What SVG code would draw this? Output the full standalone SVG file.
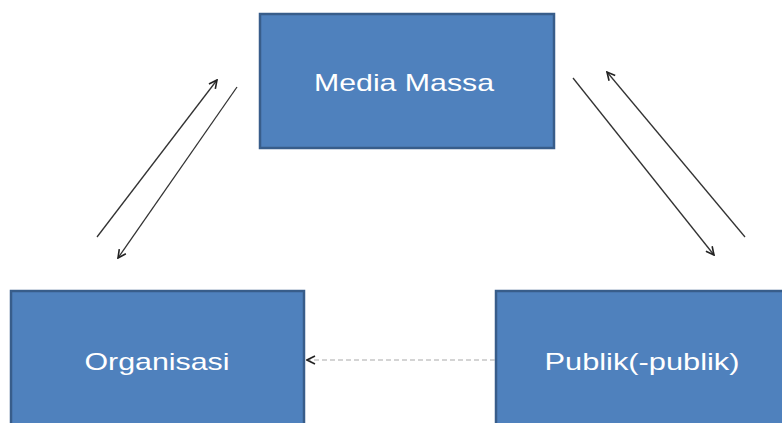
<svg xmlns="http://www.w3.org/2000/svg" width="782" height="423" viewBox="0 0 782 423">
<style>
.box{fill:#4F81BD;stroke:#385D8A;stroke-width:2.5}
.lbl{fill:#ffffff;font-family:"Liberation Sans",Arial,sans-serif;font-size:24px;text-anchor:middle}
.arr{stroke:#333;stroke-width:1.3;fill:none;marker-end:url(#open)}
.dash{stroke:#aaa;stroke-width:1.2;stroke-dasharray:5 3;fill:none;marker-end:url(#open2)}
</style>
<defs>
<marker id="open" viewBox="0 0 10 10" refX="9" refY="5" markerWidth="10" markerHeight="10" markerUnits="userSpaceOnUse" orient="auto">
<path d="M1,1 L9,5 L1,9" fill="none" stroke="#222" stroke-width="1.6"/>
</marker>
<marker id="open2" viewBox="0 0 10 10" refX="9" refY="5" markerWidth="10" markerHeight="10" markerUnits="userSpaceOnUse" orient="auto">
<path d="M1,1 L9,5 L1,9" fill="none" stroke="#222" stroke-width="1.6"/>
</marker>
</defs>
<g id="media-massa">
<rect class="box" x="260" y="14" width="294" height="134"/>
<text class="lbl" x="404" y="91" textLength="180" lengthAdjust="spacingAndGlyphs">Media Massa</text>
</g>
<g id="organisasi">
<rect class="box" x="11" y="291" width="293" height="150"/>
<text class="lbl" x="157" y="370" textLength="145" lengthAdjust="spacingAndGlyphs">Organisasi</text>
</g>
<g id="publik">
<rect class="box" x="496" y="291" width="300" height="150"/>
<text class="lbl" x="642" y="370" textLength="195" lengthAdjust="spacingAndGlyphs">Publik(-publik)</text>
</g>
<g id="connectors">
<line class="arr" x1="97" y1="237" x2="217" y2="80"/>
<line class="arr" x1="237" y1="87" x2="118" y2="258"/>
<line class="arr" x1="573" y1="78" x2="714" y2="255"/>
<line class="arr" x1="745" y1="237" x2="607" y2="72"/>
<line class="dash" x1="495" y1="360" x2="307" y2="360"/>
</g>
</svg>
